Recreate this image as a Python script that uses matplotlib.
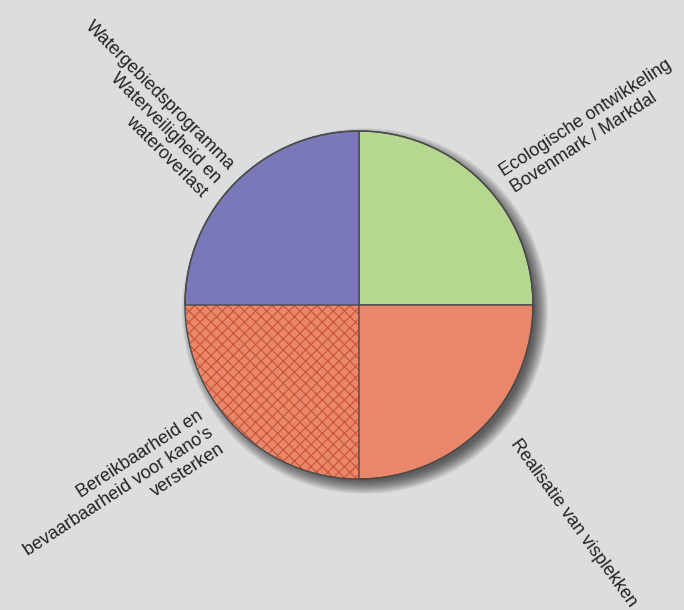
import matplotlib
matplotlib.use("Agg")
import matplotlib.pyplot as plt
from matplotlib.patches import Circle

plt.rcParams['font.family'] = ['Liberation Sans', 'DejaVu Sans']
plt.rcParams['hatch.linewidth'] = 0.8

labels = ["Ecologische ontwikkeling\nBovenmark / Markdal",
          "Realisatie van visplekken",
          "Bereikbaarheid en\nbevaarbaarheid voor kano's\nversterken",
          "Watergebiedsprogramma\nWaterveiligheid en\nwateroverlast"]
values = [1, 1, 1, 1]
colors = ["#b6d790", "#e9876a", "#e9876a", "#7a78b8"]

W, H = 684, 610
bg = "#dcdddf"
fig = plt.figure(figsize=(W / 100, H / 100), dpi=100, facecolor=bg)
ax = fig.add_axes([0, 0, 1, 1])
ax.set_facecolor(bg)
ax.axis("off")

cx, cy, r = 359, H - 305, 174

# soft shadow
for k in range(14):
    ax.add_patch(Circle((cx + 6, cy - 6), r - 4 + k, color="black",
                        alpha=0.055, lw=0, zorder=1))

wedges, _ = ax.pie(values, colors=colors, startangle=90, counterclock=False,
                   center=(cx, cy), radius=r, frame=True,
                   wedgeprops=dict(edgecolor="#4a4a4a", linewidth=1))
for w in wedges:
    w.set_zorder(3)
wedges[2].set_hatch("xxx")
wedges[2].set_edgecolor("#c75434")
wedges[2].set_linewidth(0)
wedges[2].set_zorder(2)
ax.add_patch(Circle((cx, cy), r, fill=False, edgecolor="#4a4a4a", lw=1, zorder=4))
ax.set_xlim(0, W)
ax.set_ylim(0, H)
ax.set_aspect("equal")

fs = 13
tc = "#222222"
ls = 1.2
ax.text(507, H - 181, labels[0], rotation=33, rotation_mode="anchor",
        ha="left", va="center", multialignment="left", fontsize=fs, color=tc,
        linespacing=ls)
ax.text(514, H - 441, labels[1], rotation=-54, rotation_mode="anchor",
        ha="left", va="center", fontsize=fs, color=tc)
ax.text(212, H - 431, labels[2], rotation=33, rotation_mode="anchor",
        ha="right", va="center", multialignment="right", fontsize=fs, color=tc,
        linespacing=ls)
ax.text(218, H - 181, labels[3], rotation=-45, rotation_mode="anchor",
        ha="right", va="center", multialignment="right", fontsize=fs, color=tc,
        linespacing=ls)

fig.savefig("out.png", dpi=100, facecolor=bg)
